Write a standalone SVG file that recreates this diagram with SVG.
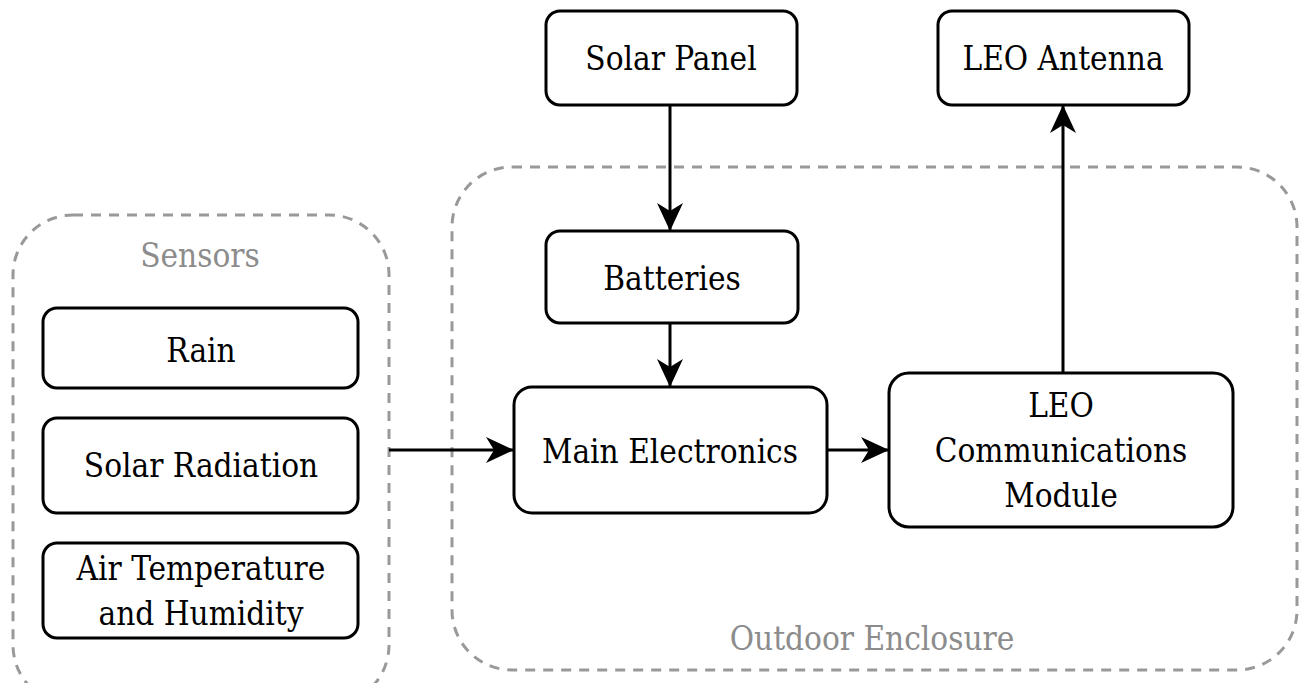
<svg xmlns="http://www.w3.org/2000/svg" width="1306" height="683" viewBox="0 0 1306 683">
<defs>
<style>
.box{fill:#fff;stroke:#000;stroke-width:3}
.grp{fill:none;stroke:#999;stroke-width:3;stroke-dasharray:10 8}
text{font-family:'DejaVu Serif Condensed','DejaVu Serif',serif;font-stretch:condensed;font-size:33px;text-anchor:middle}
.t{fill:#000}
.gl{fill:#8c8c8c}
.edge{fill:none;stroke:#000;stroke-width:3}
</style>
<marker id="arr" markerUnits="userSpaceOnUse" markerWidth="28" markerHeight="26" refX="28" refY="13" orient="auto" viewBox="0 0 28 26">
<path d="M0,0 L28,13 L0,26 L8,13 Z" fill="#000"/>
</marker>
</defs>
<rect width="1306" height="683" fill="#fff"/>
<g id="group-sensors">
<rect class="grp" x="13" y="215" width="376" height="490" rx="60"/>
<text class="gl" x="200" y="267">Sensors</text>
</g>
<g id="group-outdoor-enclosure">
<rect class="grp" x="452" y="167" width="845" height="503" rx="60"/>
<text class="gl" x="872" y="650">Outdoor Enclosure</text>
</g>
<g id="connectors">
<line class="edge" x1="670" y1="105" x2="670" y2="231" marker-end="url(#arr)"/>
<line class="edge" x1="670" y1="323" x2="670" y2="387" marker-end="url(#arr)"/>
<line class="edge" x1="389" y1="450" x2="514" y2="450" marker-end="url(#arr)"/>
<line class="edge" x1="827" y1="450" x2="889" y2="450" marker-end="url(#arr)"/>
<line class="edge" x1="1063" y1="373" x2="1063" y2="105" marker-end="url(#arr)"/>
</g>
<g id="node-solar-panel">
<rect class="box" x="546" y="11" width="251" height="94" rx="14"/>
<text class="t" x="671" y="70">Solar Panel</text>
</g>
<g id="node-leo-antenna">
<rect class="box" x="938" y="11" width="251" height="94" rx="14"/>
<text class="t" x="1063" y="70">LEO Antenna</text>
</g>
<g id="node-batteries">
<rect class="box" x="546" y="231" width="252" height="92" rx="14"/>
<text class="t" x="672" y="290">Batteries</text>
</g>
<g id="node-main-electronics">
<rect class="box" x="514" y="387" width="313" height="126" rx="18"/>
<text class="t" x="670" y="463">Main Electronics</text>
</g>
<g id="node-leo-comm">
<rect class="box" x="889" y="373" width="344" height="154" rx="20"/>
<text class="t" x="1061" y="417">LEO</text>
<text class="t" x="1061" y="462">Communications</text>
<text class="t" x="1061" y="507">Module</text>
</g>
<g id="node-rain">
<rect class="box" x="43" y="308" width="315" height="80" rx="14"/>
<text class="t" x="201" y="362">Rain</text>
</g>
<g id="node-solar-radiation">
<rect class="box" x="43" y="418" width="315" height="95" rx="14"/>
<text class="t" x="201" y="477">Solar Radiation</text>
</g>
<g id="node-air-temp">
<rect class="box" x="43" y="543" width="315" height="95" rx="14"/>
<text class="t" x="201" y="580">Air Temperature</text>
<text class="t" x="201" y="625">and Humidity</text>
</g>
</svg>
